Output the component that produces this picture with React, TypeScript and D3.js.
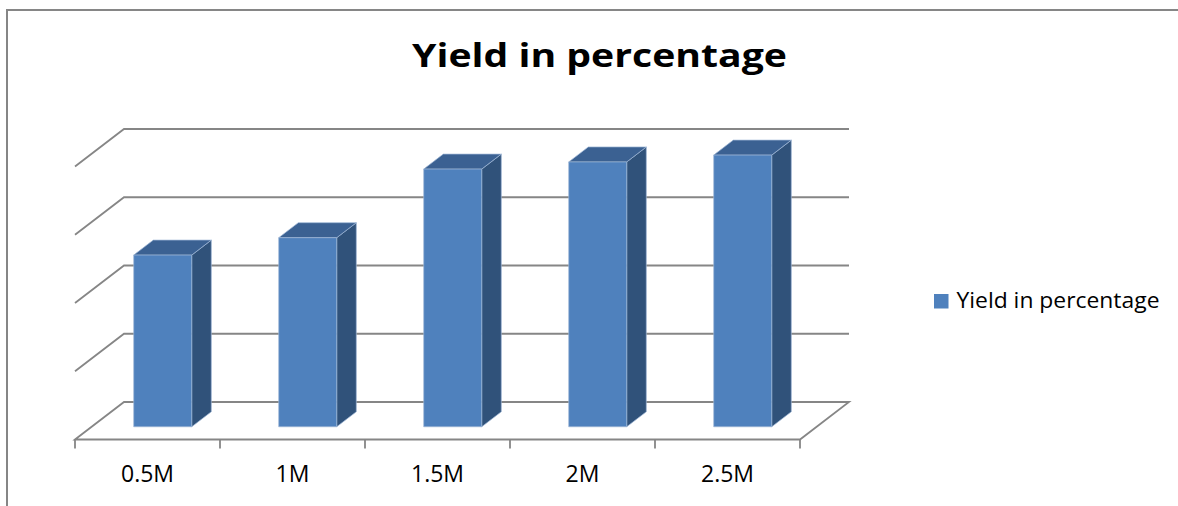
import React from "react";
import * as d3 from "d3";

// Chart data
const categories: string[] = ["0.5M", "1M", "1.5M", "2M", "2.5M"];
const yieldValues: number[] = [50.3, 55.4, 75.5, 77.6, 79.6];
const valueTicks: number[] = [0, 20, 40, 60, 80];
const seriesName = "Yield in percentage";
const chartTitle = "Yield in percentage";

// Layout of the oblique 3D plot
const W = 1178;
const H = 506;
const FLOOR_LEFT = 75;
const FLOOR_RIGHT = 800;
const FLOOR_Y = 439.5; // front edge of the floor
const DEPTH_X = 49; // full depth offset, horizontal
const DEPTH_Y = 37.5; // full depth offset, vertical
const PLOT_HEIGHT = 273;
const BAR_Z0 = 0.34;
const BAR_Z1 = 0.74;
const BAR_INSET = 0.29;
const BAR_WIDTH = 0.4;

const FONT = "'Open Sans', 'Noto Sans', sans-serif";
const GRID = "#868686";
const FRONT = "#4F81BD";
const TOP = "#3B6192";
const SIDE = "#30527A";

export default function App() {
  const x = d3.scaleBand<string>().domain(categories).range([FLOOR_LEFT, FLOOR_RIGHT]).padding(0);
  const h = d3.scaleLinear().domain([0, 80]).range([0, PLOT_HEIGHT]);

  // project (x along the front, height, depth 0..1) to screen
  const px = (xv: number, z: number) => xv + z * DEPTH_X;
  const py = (hv: number, z: number) => FLOOR_Y - hv - z * DEPTH_Y;
  const pt = (xv: number, hv: number, z: number) => `${px(xv, z)},${py(hv, z)}`;

  const bw = x.bandwidth();

  return (
    <svg width={W} height={H} style={{ position: "absolute", left: 0, top: 0, background: "#fff" }}>
      {/* chart area frame */}
      <path d={`M7,${H + 2} V10 H${W + 2}`} fill="none" stroke={GRID} strokeWidth={2} />

      <text
        x={599.5}
        y={67}
        textAnchor="middle"
        fontFamily={FONT}
        fontWeight={700}
        fontSize={32}
        textLength={375}
        lengthAdjust="spacingAndGlyphs"
        fill="#000"
      >
        {chartTitle}
      </text>

      {/* walls: gridlines on the back wall and the left side wall */}
      {valueTicks.map((t) => {
        const hv = h(t);
        const d =
          t === 0
            ? `M${pt(FLOOR_LEFT, 0, 0)} L${pt(FLOOR_LEFT, 0, 1)} L${pt(FLOOR_RIGHT, 0, 1)} L${pt(FLOOR_RIGHT, 0, 0)} Z`
            : `M${pt(FLOOR_LEFT, hv, 0)} L${pt(FLOOR_LEFT, hv, 1)} L${pt(FLOOR_RIGHT, hv, 1)}`;
        return <path key={t} d={d} fill="none" stroke={GRID} strokeWidth={1.8} strokeLinejoin="miter" />;
      })}

      {/* category ticks */}
      {[...categories.map((c) => x(c) as number), FLOOR_RIGHT].map((tx, i) => (
        <line key={i} x1={tx} x2={tx} y1={FLOOR_Y} y2={FLOOR_Y + 9} stroke={GRID} strokeWidth={1.8} />
      ))}

      {/* bars */}
      {categories.map((c, i) => {
        const x0 = (x(c) as number) + BAR_INSET * bw;
        const x1 = x0 + BAR_WIDTH * bw;
        const hv = h(yieldValues[i]);
        const front = `M${pt(x0, 0, BAR_Z0)} L${pt(x1, 0, BAR_Z0)} L${pt(x1, hv, BAR_Z0)} L${pt(x0, hv, BAR_Z0)} Z`;
        const side = `M${pt(x1, 0, BAR_Z0)} L${pt(x1, 0, BAR_Z1)} L${pt(x1, hv, BAR_Z1)} L${pt(x1, hv, BAR_Z0)} Z`;
        const top = `M${pt(x0, hv, BAR_Z0)} L${pt(x1, hv, BAR_Z0)} L${pt(x1, hv, BAR_Z1)} L${pt(x0, hv, BAR_Z1)} Z`;
        return (
          <g key={c} stroke="#9DB6D6" strokeWidth={0.7} strokeLinejoin="round">
            <path d={side} fill={SIDE} />
            <path d={top} fill={TOP} />
            <path d={front} fill={FRONT} />
          </g>
        );
      })}

      {/* category labels */}
      {categories.map((c) => (
        <text
          key={c}
          x={(x(c) as number) + bw / 2}
          y={482}
          textAnchor="middle"
          fontFamily={FONT}
          fontSize={23}
          fill="#000"
        >
          {c}
        </text>
      ))}

      {/* legend */}
      <rect x={934} y={294} width={14.5} height={14.5} fill={FRONT} />
      <text x={956.5} y={307.5} fontFamily={FONT} fontSize={21.5} textLength={203} lengthAdjust="spacingAndGlyphs" fill="#000">
        {seriesName}
      </text>
    </svg>
  );
}
